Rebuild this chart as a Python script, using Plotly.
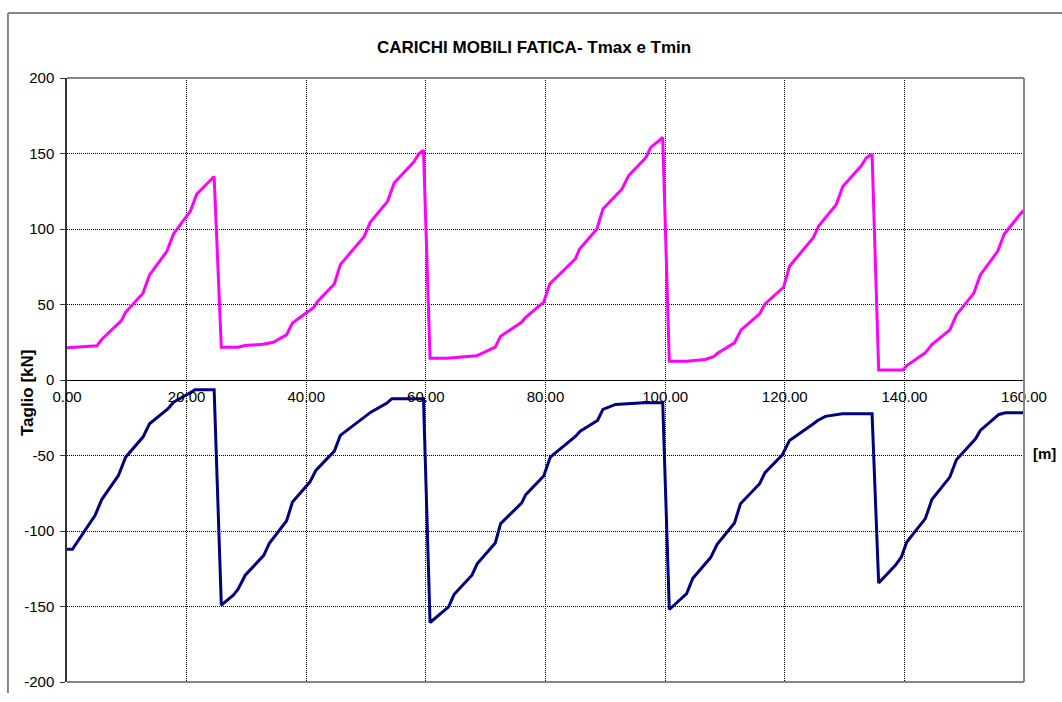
import plotly.graph_objects as go

# --- dati ---
x_max = [0, 5.0, 5.8, 9.1, 9.8, 12.7, 13.8, 16.7, 17.8, 20.6,
         21.7, 24.6, 25.8, 28.6, 29.8, 32.8, 34.5, 36.7, 37.7, 41.3,
         41.8, 44.7, 45.7, 49.7, 50.7, 53.6, 54.7, 58.0, 58.8, 59.6,
         60.7, 63.5, 68.5, 71.6, 72.5, 76.0, 76.7, 79.7, 80.7, 85.0,
         85.7, 88.6, 89.6, 92.8, 93.9, 96.8, 97.6, 99.6, 100.7, 103.6,
         106.7, 108.1, 108.9, 111.6, 112.7, 115.8, 116.7, 119.8, 120.8, 124.8,
         125.7, 128.6, 129.7, 132.8, 133.6, 134.6, 135.7, 139.8, 140.4, 143.5,
         144.6, 147.6, 148.7, 151.6, 152.7, 155.6, 156.7, 159.7, 160]
t_max = [21.3, 22.6, 26.8, 39.4, 44.8, 57.4, 69.6, 85.2, 96.7, 111.6,
         123.1, 134.8, 21.7, 21.7, 22.8, 23.7, 25.0, 29.9, 37.8, 48.2,
         51.5, 63.6, 76.4, 95.1, 104.4, 118.3, 130.4, 144.5, 149.6, 152.2,
         14.4, 14.4, 16.0, 21.7, 29.0, 38.2, 41.5, 51.5, 63.6, 80.2,
         86.8, 100.0, 113.2, 126.5, 135.3, 147.4, 154.0, 160.6, 12.4, 12.4,
         13.6, 15.5, 18.0, 24.6, 33.2, 43.8, 50.4, 61.4, 75.3, 94.4,
         102.2, 116.1, 128.2, 141.9, 147.0, 149.6, 6.7, 6.7, 9.6, 18.0,
         23.5, 33.2, 43.1, 57.4, 69.6, 85.2, 96.7, 111.4, 112]

x_min = [0, 0.9, 4.7, 5.8, 8.6, 9.8, 12.7, 13.8, 16.9, 17.8,
         20.3, 21.4, 24.6, 25.8, 27.8, 28.6, 29.8, 32.9, 33.8, 36.7,
         37.7, 40.6, 41.6, 44.7, 45.7, 49.7, 50.8, 53.5, 54.3, 59.6,
         60.7, 63.8, 64.7, 67.7, 68.6, 71.6, 72.5, 76.0, 76.7, 79.7,
         80.8, 85.0, 85.8, 88.7, 89.6, 91.7, 96.4, 99.6, 100.7, 103.6,
         104.6, 107.6, 108.7, 111.6, 112.6, 115.8, 116.7, 119.6, 120.8, 124.8,
         125.5, 126.8, 129.6, 134.6, 135.7, 138.5, 139.5, 140.4, 143.5, 144.6,
         147.6, 148.7, 151.9, 152.7, 155.8, 156.9, 160]
t_min = [-112.1, -112.1, -89.6, -79.2, -63.2, -51.1, -37.8, -29.0, -19.0, -14.7,
         -9.1, -6.5, -6.5, -149.1, -142.5, -138.6, -129.3, -116.1, -108.3, -93.4,
         -80.8, -67.6, -59.9, -47.1, -36.7, -24.6, -21.3, -15.3, -12.4, -12.4,
         -160.6, -150.3, -142.1, -129.3, -121.6, -107.9, -95.1, -81.5, -75.9, -63.6,
         -51.1, -37.4, -33.9, -26.8, -19.5, -16.2, -15.1, -15.1, -152.0, -141.4,
         -131.5, -117.6, -108.8, -94.7, -81.9, -68.7, -61.4, -49.5, -40.0, -29.0,
         -26.8, -24.1, -22.4, -22.4, -134.4, -122.7, -117.2, -107.3, -91.8, -79.2,
         -64.3, -52.8, -38.9, -33.4, -22.8, -21.7, -21.7]

x_ticks = [0, 20, 40, 60, 80, 100, 120, 140, 160]
x_tick_labels = ['0.00', '20.00', '40.00', '60.00', '80.00', '100.00', '120.00', '140.00', '160.00']
y_ticks = [-200, -150, -100, -50, 0, 50, 100, 150, 200]
y_tick_labels = ['-200', '-150', '-100', '-50', '0', '50', '100', '150', '200']

FONT = 'Liberation Sans, Arial, sans-serif'
GRAY = '#868686'

fig = go.Figure()

fig.add_trace(go.Scatter(x=x_max, y=t_max, mode='lines', name='Tmax',
                         line=dict(color='#FF00FF', width=3)))
fig.add_trace(go.Scatter(x=x_min, y=t_min, mode='lines', name='Tmin',
                         line=dict(color='#000080', width=3)))

# area grafico 957x604 (margine del body azzerato nel post_script)
fig.update_layout(
    width=1062, height=702,
    margin=dict(l=67, r=38, t=78, b=20),
    paper_bgcolor='white', plot_bgcolor='white',
    showlegend=False,
    font=dict(family=FONT, size=15, color='black'),
    xaxis=dict(
        range=[0, 160], tickvals=x_ticks, ticktext=x_tick_labels,
        anchor='free', position=0.5,
        showline=True, linecolor='black', linewidth=1,
        ticks='', ticklabelstandoff=3,
        showgrid=True, gridcolor='black', gridwidth=1, griddash='1px,1px',
        zeroline=False, tickfont=dict(size=15),
    ),
    yaxis=dict(
        range=[-200, 200], tickvals=y_ticks, ticktext=y_tick_labels,
        showline=True, linecolor='#333333', linewidth=1.5,
        ticks='outside', ticklen=5, tickcolor='#333333', ticklabelstandoff=3,
        showgrid=True, gridcolor='black', gridwidth=1, griddash='1px,1px',
        zeroline=True, zerolinecolor='black', zerolinewidth=1,
        tickfont=dict(size=15),
    ),
)

# bordo area del grafico (grigio) e cornice esterna
for x0, y0, x1, y1 in [(0, 1, 1, 1), (1, 0, 1, 1), (0, 0, 1, 0)]:
    fig.add_shape(type='line', xref='paper', yref='paper', x0=x0, y0=y0, x1=x1, y1=y1,
                  line=dict(color=GRAY, width=2))
fig.add_shape(type='line', xref='paper', yref='paper', x0=-0.0617, y0=1.1076, x1=1.05, y1=1.1076,
              line=dict(color=GRAY, width=2))
fig.add_shape(type='line', xref='paper', yref='paper', x0=-0.0617, y0=-0.0182, x1=-0.0617, y1=1.1076,
              line=dict(color=GRAY, width=2))

fig.add_annotation(text='<b>CARICHI MOBILI FATICA- Tmax e Tmin</b>', xref='paper', yref='paper',
                   x=0.488, y=1.051, xanchor='center', yanchor='middle',
                   showarrow=False, font=dict(size=17))
fig.add_annotation(text='<b>Taglio [kN]</b>', xref='paper', yref='paper',
                   x=-0.0418, y=0.48, xanchor='center', yanchor='middle', textangle=-90,
                   showarrow=False, font=dict(size=17))
fig.add_annotation(text='<b>[m]</b>', xref='paper', yref='paper',
                   x=1.021, y=0.379, xanchor='center', yanchor='middle',
                   showarrow=False, font=dict(size=15))

fig.write_html("out.html", config={'displayModeBar': False},
               post_script="document.body.style.margin='0';document.body.style.overflow='hidden';")
